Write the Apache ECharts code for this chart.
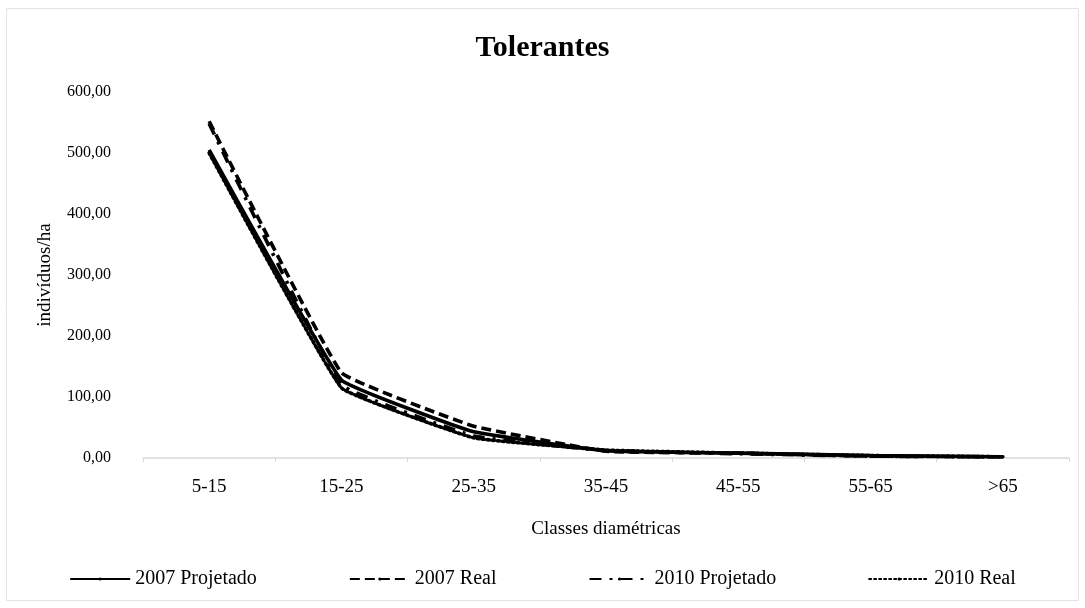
<!DOCTYPE html>
<html><head><meta charset="utf-8">
<script src="https://cdn.jsdelivr.net/npm/echarts@6/dist/echarts.min.js"></script>
<style>html,body{margin:0;padding:0;background:#fff}#c{width:1085px;height:608px}</style>
</head><body><div id="c"></div>
<script>
const categories = ['5-15','15-25','25-35','35-45','45-55','55-65','>65'];
const proj2007 = [505, 128, 43, 12, 8, 4, 2];
const real2007 = [552, 140, 52, 11, 8, 3, 2];
const proj2010 = [548, 120, 36, 12, 7, 3, 2];
const real2010 = [500, 115, 33, 13, 8, 4, 2];
const yTicks = {min: 0, max: 600, interval: 100};

const font = '"Liberation Serif", "DejaVu Serif", serif';
const chart = echarts.init(document.getElementById('c'));
function ser(name, data, type, cap) {
  return {name, type: 'line', data, symbol: 'none', smooth: 0.08,
    lineStyle: {color: '#000', width: 3.6, type, cap: cap || 'butt'}, itemStyle: {color: '#000'}};
}
chart.setOption({
  animation: false,
  backgroundColor: '#fff',
  graphic: [{type: 'rect', shape: {x: 6.5, y: 8.5, width: 1072, height: 592},
    style: {fill: 'none', stroke: '#e3e3e3', lineWidth: 1}, silent: true}],
  title: {text: 'Tolerantes', left: 'center', top: 28,
    textStyle: {fontFamily: font, fontSize: 30, fontWeight: 'bold', color: '#000'}},
  grid: {left: 143, right: 16, top: 92, bottom: 150},
  legend: {bottom: 14, left: 'center', itemWidth: 60, itemHeight: 4, itemGap: 92,
    textStyle: {fontFamily: font, fontSize: 20, color: '#000'}},
  xAxis: {type: 'category', data: categories, boundaryGap: true,
    name: 'Classes diamétricas', nameLocation: 'middle', nameGap: 62,
    nameTextStyle: {fontFamily: font, fontSize: 19, color: '#000'},
    axisLine: {lineStyle: {color: '#d9d9d9', width: 1.5}},
    axisTick: {show: true, length: 4, lineStyle: {color: '#d9d9d9'}},
    axisLabel: {fontFamily: font, fontSize: 19, color: '#000', margin: 20}},
  yAxis: {type: 'value', min: yTicks.min, max: yTicks.max, interval: yTicks.interval,
    name: 'indivíduos/ha', nameLocation: 'middle', nameGap: 88, nameRotate: 90,
    nameTextStyle: {fontFamily: font, fontSize: 19, color: '#000'},
    splitLine: {show: false}, axisLine: {show: false}, axisTick: {show: false},
    axisLabel: {fontFamily: font, fontSize: 16, color: '#000', margin: 32,
      formatter: v => v.toFixed(2).replace('.', ',')}},
  series: [
    ser('2007 Projetado', proj2007, 'solid'),
    ser('2007 Real', real2007, [10, 5]),
    ser('2010 Projetado', proj2010, [12, 8, 3, 8]),
    ser('2010 Real', real2010, [2, 3], 'round')
  ]
});
</script></body></html>
